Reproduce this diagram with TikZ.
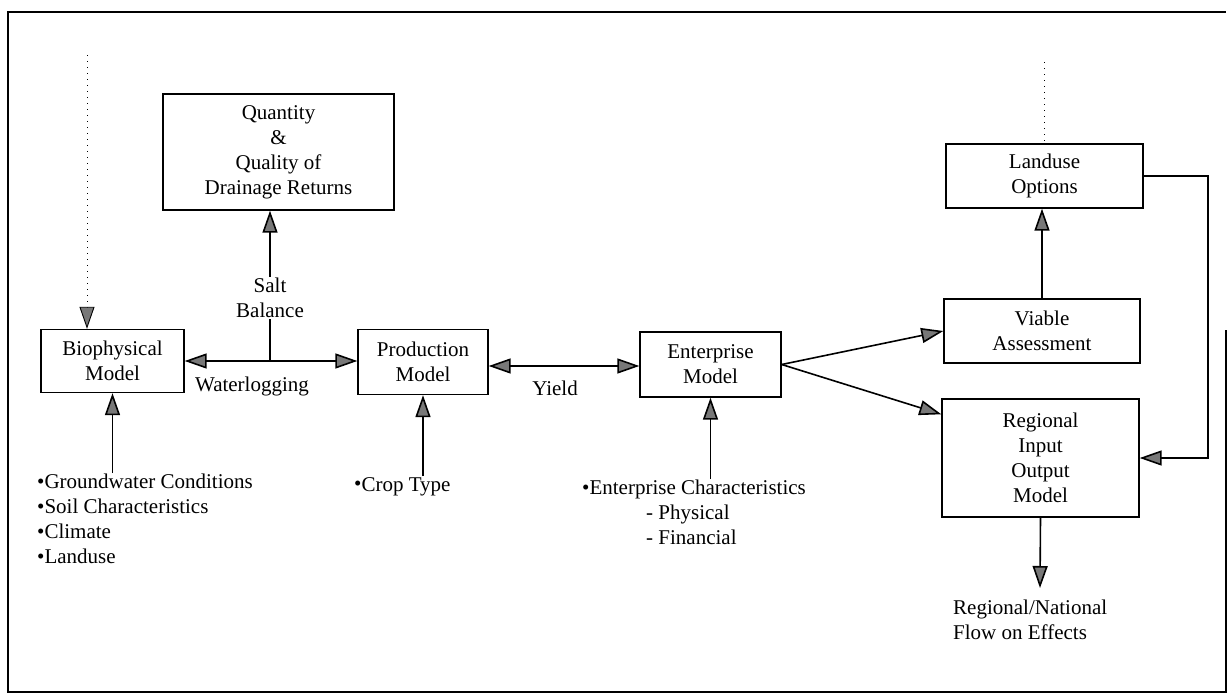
\documentclass[tikz,border=0pt]{standalone}
\usepackage{fontspec}
\setmainfont{Liberation Serif}
\usepackage{tikz}
\usetikzlibrary{arrows.meta}
\usepackage{xcolor}
\definecolor{TipGrey}{RGB}{120,120,120}
\newcommand{\Bul}{{\fontsize{21}{21}\selectfont\raisebox{0.5pt}{•}}}
\tikzstyle{Frame}=[line width=1.3pt]
\tikzstyle{BoxModel}=[draw,line width=1.4pt,inner sep=0pt,align=center,
font=\fontsize{21}{25}\selectfont]
\tikzstyle{TextList}=[inner sep=1pt,align=left,anchor=north west,font=\fontsize{21}{25}\selectfont]
\tikzstyle{TextLabel}=[inner sep=1pt,align=center,font=\fontsize{21}{25}\selectfont]
\tikzstyle{EdgeModel}=[line width=1.6pt,-{Triangle[length=22pt,width=15pt,fill=TipGrey]}]
\tikzstyle{EdgeBoth}=[line width=1.6pt,{Triangle[length=22pt,width=15pt,fill=TipGrey]}-{Triangle[length=22pt,width=15pt,fill=TipGrey]}]
\tikzstyle{EdgePlain}=[line width=1.6pt]
\tikzstyle{EdgeDotted}=[line width=0.9pt,dash pattern=on 1pt off 5pt]
\begin{document}
\begin{tikzpicture}[x=1pt,y=-1pt]
        \useasboundingbox(0,0)rectangle(1227,696);
        \draw[Frame](1226,330)--(1226,692)--(8,692)--(8,12)--(1226,12);
        \node[BoxModel,minimum width=231pt,minimum height=116pt](qual)at(278.5,152){Quantity\\\&\\Quality of\\Drainage Returns};
        \node[BoxModel,minimum width=143pt,minimum height=63pt](bio)at(112.5,361){Biophysical\\Model};
        \node[BoxModel,minimum width=130pt,minimum height=65pt](prod)at(423,362){Production\\Model};
        \node[BoxModel,minimum width=141pt,minimum height=65pt](ent)at(710.5,364.5){Enterprise\\Model};
        \node[BoxModel,minimum width=196pt,minimum height=64pt](via)at(1042,331){Viable\\Assessment};
        \node[BoxModel,minimum width=197pt,minimum height=64pt](land)at(1044.5,176){Landuse\\Options};
        \node[BoxModel,minimum width=197pt,minimum height=118pt](reg)at(1040.5,458){Regional\\Input\\Output\\Model};
        \node[TextLabel](salt)at(270,298){Salt\\Balance};
        \node[TextLabel](wlog)at(252,386){Waterlogging};
        \node[TextLabel](yield)at(555,388){Yield};
        \node[TextList](bioins)at(36,473){\Bul Groundwater Conditions\\\Bul Soil Characteristics\\\Bul Climate\\\Bul Landuse};
        \node[TextList](crop)at(353,476){\Bul Crop Type};
        \node[TextList](entins)at(581,479){\Bul Enterprise Characteristics\\\hspace*{64pt}- Physical\\\hspace*{64pt}- Financial};
        \node[TextList](flow)at(952,599){Regional/National\\Flow on Effects};
        \coordinate(biotop)at(87,55);
        \coordinate(landtop)at(1044,62);
        \coordinate(wmid)at(270,361);
        \coordinate(flowtip)at(1040,588);
        \draw[EdgeDotted,-{Triangle[length=22pt,width=15pt,fill=TipGrey]}](biotop)--(biotop|-bio.north);
        \draw[EdgeDotted](landtop)--(landtop|-land.north);
        \draw[EdgeBoth](bio.east)--(bio.east-|prod.west);
        \draw[EdgePlain](wmid)--(salt.south);
        \draw[EdgeModel](salt.north)--(salt.north|-qual.south);
        \draw[EdgeBoth]([yshift=-4pt]prod.east)--([yshift=-4pt]prod.east-|ent.west);
        \draw[EdgeModel](bio.south|-bioins.north)--(bio.south);
        \draw[EdgeModel](prod.south|-crop.north)--(prod.south);
        \draw[EdgeModel](ent.south|-entins.north)--(ent.south);
        \draw[EdgeModel](ent.east)--(via.west);
        \draw[EdgeModel](ent.east)--([yshift=-16pt]reg.north west);
        \draw[EdgeModel](via.north)--(via.north|-land.south);
        \draw[EdgeModel](land.east)--++(64,0)|-(reg.east);
        \draw[EdgeModel](reg.south)--(flowtip);
    \end{tikzpicture}
\end{document}
